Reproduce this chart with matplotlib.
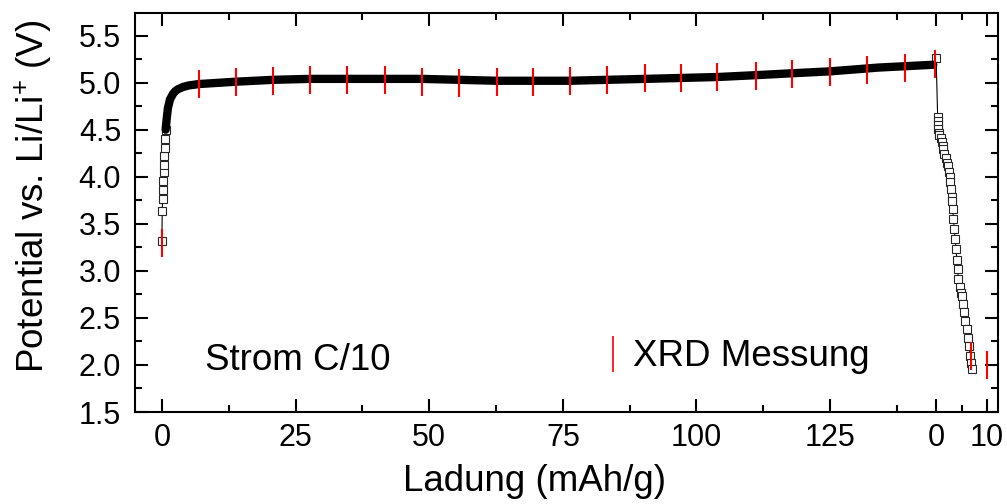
import numpy as np
import matplotlib.pyplot as plt
from matplotlib.lines import Line2D
from matplotlib.ticker import FixedLocator, MultipleLocator

plt.rcParams['font.family'] = ['Liberation Sans', 'DejaVu Sans']
plt.rcParams['mathtext.fontset'] = 'custom'
plt.rcParams['mathtext.rm'] = 'Liberation Sans'

# charge (mAh/g, V)
charge_q = [0, 0.05, 0.13, 0.19, 0.24, 0.32, 0.37, 0.43, 0.51, 0.56, 0.69, 0.88,
            1.12, 1.50, 2.06, 2.5, 3.0, 4.0, 5.0, 6.9, 13.8, 20.8, 27.7, 34.6, 41.7,
            48.7, 55.7, 62.6, 69.4, 76.3, 83.3, 90.4, 97.3, 104.0, 111.3, 118.0,
            125.0, 134.0, 144.3]
charge_v = [3.32, 3.64, 3.76, 3.86, 3.96, 4.05, 4.13, 4.22, 4.31, 4.40, 4.50, 4.61,
            4.73, 4.82, 4.88, 4.91, 4.93, 4.955, 4.97, 4.985, 5.01, 5.03, 5.04, 5.04,
            5.04, 5.04, 5.03, 5.02, 5.02, 5.02, 5.03, 5.04, 5.05, 5.06, 5.08, 5.10,
            5.12, 5.16, 5.19]
band_start = 10  # from here on the squares merge into a solid band

# discharge (own 0..10 scale on the right)
dis_q = [0.0, 0.30, 0.35, 0.40, 0.45, 0.50, 0.65, 0.92, 1.10, 1.25, 1.37, 1.60,
         1.85, 2.10, 2.35, 2.50, 2.62, 2.75, 2.90, 3.08, 3.14, 3.25, 3.40, 3.55,
         3.73, 3.90, 4.06, 4.20, 4.37, 4.60, 4.85, 5.04, 5.25, 5.49, 5.75, 6.02,
         6.25, 6.47, 6.70, 6.85, 7.00]
dis_v = [5.26, 4.63, 4.59, 4.55, 4.51, 4.47, 4.44, 4.41, 4.37, 4.33, 4.29, 4.24,
         4.20, 4.15, 4.11, 4.05, 4.00, 3.94, 3.87, 3.79, 3.74, 3.66, 3.55, 3.45,
         3.34, 3.23, 3.12, 3.02, 2.91, 2.83, 2.77, 2.73, 2.65, 2.56, 2.47, 2.38,
         2.29, 2.20, 2.10, 2.02, 1.96]

# XRD measurement points
xrd_charge_q = [0, 6.9, 13.9, 20.8, 27.7, 34.6, 41.7, 48.6, 55.5, 62.7, 69.4, 76.3,
                83.2, 90.3, 97.2, 103.9, 111.2, 117.9, 125.0, 131.9, 139.0, 144.6]
xrd_charge_v = [3.30, 4.99, 5.01, 5.02, 5.03, 5.03, 5.03, 5.01, 5.00, 5.01, 5.01, 5.02,
                5.03, 5.05, 5.05, 5.06, 5.07, 5.09, 5.11, 5.13, 5.16, 5.20]
xrd_dis_q = [6.86, 10.0]
xrd_dis_v = [2.10, 2.00]

DIS_OFFSET = 144.84
DIS_SCALE = 0.954

fig = plt.figure(figsize=(10.07, 5.04), dpi=100)
ax = fig.add_axes([0.134, 0.1825, 0.857, 0.7917])

ax.plot(charge_q[:band_start + 1], charge_v[:band_start + 1], color='k', lw=0.8,
        marker='s', ms=6, mfc='white', mec='0.15', mew=0.8, zorder=2)
ax.plot(charge_q[band_start:], charge_v[band_start:], color='k', lw=6.0,
        solid_capstyle='round', solid_joinstyle='round', zorder=3)

dx = DIS_OFFSET + DIS_SCALE * np.array(dis_q)
ax.plot(dx, dis_v, color='k', lw=0.8, marker='s', ms=6, mfc='white', mec='0.15',
        mew=0.8, zorder=2)

ax.plot(xrd_charge_q, xrd_charge_v, ls='none', marker='|', ms=19.5, mew=1.5,
        color='red', zorder=4)
ax.plot(DIS_OFFSET + DIS_SCALE * np.array(xrd_dis_q), xrd_dis_v, ls='none',
        marker='|', ms=19.5, mew=1.5, color='red', zorder=4)

ax.set_xlim(-5.05, 156.4)
ax.set_ylim(1.5, 5.74)

major_x = [0, 25, 50, 75, 100, 125, DIS_OFFSET, DIS_OFFSET + 10 * DIS_SCALE]
ax.set_xticks(major_x)
ax.set_xticklabels(['0', '25', '50', '75', '100', '125', '0', '10'])
ax.xaxis.set_minor_locator(FixedLocator([12.5, 37.5, 62.5, 87.5, 112.5, 137.5,
                                         DIS_OFFSET + 5 * DIS_SCALE]))
yt = np.arange(1.5, 5.51, 0.5)
ax.set_yticks(yt)
ax.set_yticklabels(['%.1f' % v for v in yt])
ax.yaxis.set_minor_locator(MultipleLocator(0.25))

ax.tick_params(which='both', direction='in', top=True, right=True, width=1.5,
               labelsize=22)
ax.tick_params(which='major', length=9.5)
ax.tick_params(which='minor', length=5)
ax.tick_params(axis='y', pad=10)
ax.tick_params(axis='x', pad=8)
for s in ax.spines.values():
    s.set_linewidth(1.5)

ax.set_xlabel('Ladung (mAh/g)', fontsize=26.5)
ax.xaxis.set_label_coords(0.4635, -0.13)
ax.set_ylabel('Potential vs. Li/Li$^{+}$ (V)', fontsize=26.5)
ax.yaxis.set_label_coords(-0.0927, 0.541)

ax.text(0.081, 0.105, 'Strom C/10', transform=ax.transAxes, fontsize=26.5,
        va='baseline')

h = Line2D([], [], color='red', marker='|', ls='none', ms=26, mew=1.2)
ax.legend([h], ['XRD Messung'], loc='center left', bbox_to_anchor=(0.543, 0.138),
          frameon=False, fontsize=26.5, handlelength=0.5, handletextpad=0.29,
          borderpad=0, borderaxespad=0)

fig.savefig('out.png', dpi=100)
